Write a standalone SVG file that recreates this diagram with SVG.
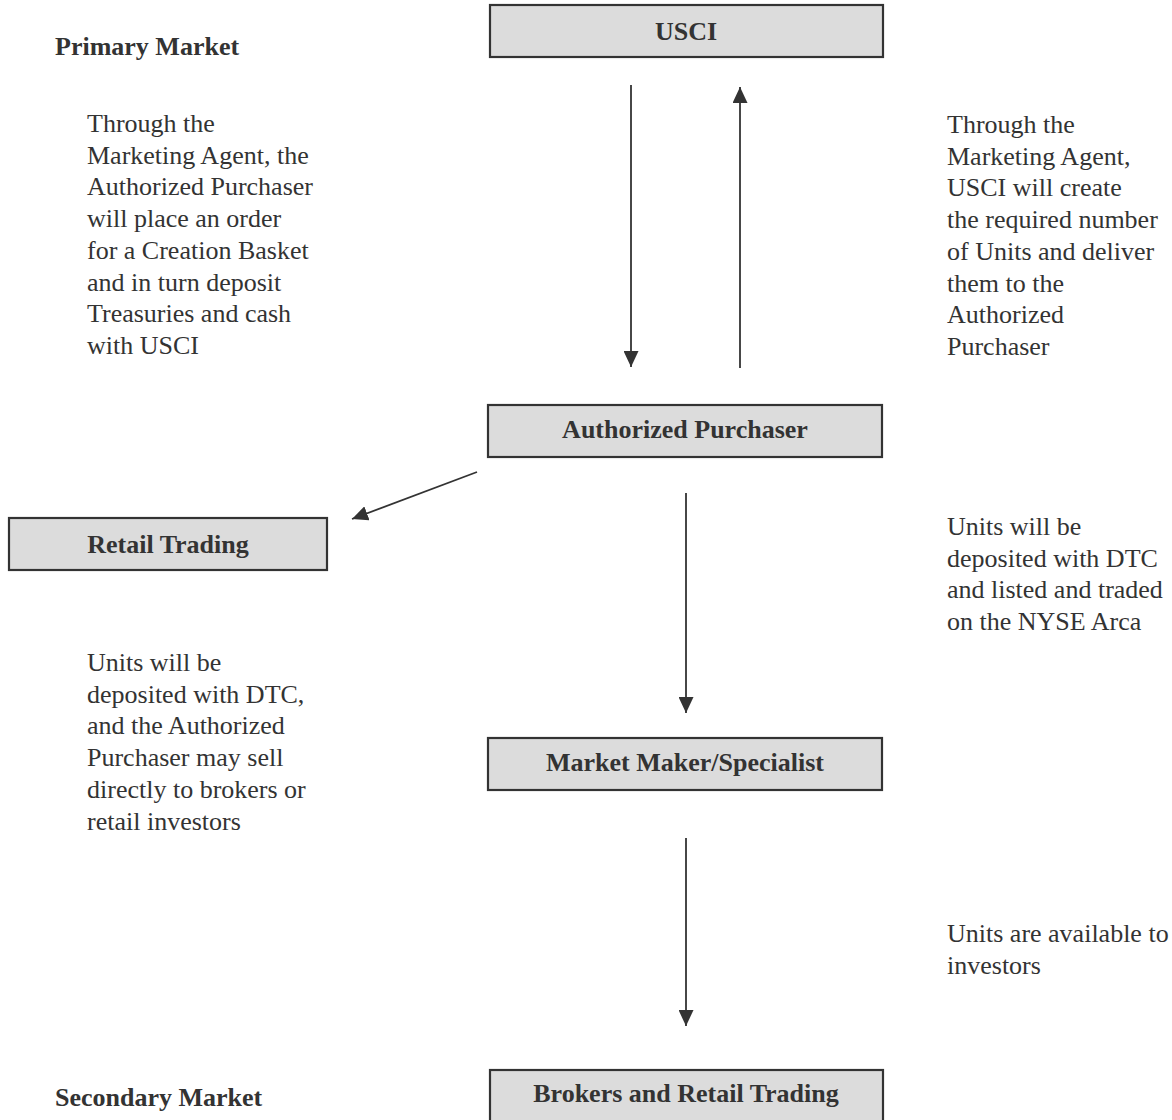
<svg xmlns="http://www.w3.org/2000/svg" width="1172" height="1120" viewBox="0 0 1172 1120">
<defs>
<marker id="ah" viewBox="0 0 16 15" refX="16" refY="7.5" markerWidth="16" markerHeight="15" markerUnits="userSpaceOnUse" orient="auto">
<path d="M0,0 L16,7.5 L0,15 Z" fill="#333"/>
</marker>
<style>
.box{fill:#dcdcdc;stroke:#333;stroke-width:2.2}
.lbl{font-family:"Liberation Serif","Times New Roman",serif;font-size:26px;font-weight:bold;fill:#333;text-anchor:middle}
.hdr{font-family:"Liberation Serif","Times New Roman",serif;font-size:26px;font-weight:bold;fill:#333}
.txt{font-family:"Liberation Serif","Times New Roman",serif;font-size:26px;fill:#333}
.conn{stroke:#333;stroke-width:1.8;fill:none;marker-end:url(#ah)}
</style>
</defs>
<rect width="1172" height="1120" fill="#fff"/>

<g id="connectors">
<line class="conn" x1="631" y1="85" x2="631" y2="367"/>
<line class="conn" x1="740" y1="368" x2="740" y2="87"/>
<line class="conn" x1="477" y1="472" x2="352" y2="519"/>
<line class="conn" x1="686" y1="493" x2="686" y2="713"/>
<line class="conn" x1="686" y1="838" x2="686" y2="1026"/>
</g>

<g id="usci">
<rect class="box" x="490" y="5" width="393" height="52"/>
<text class="lbl" x="686" y="40">USCI</text>
</g>
<g id="authorized-purchaser">
<rect class="box" x="488" y="405" width="394" height="52"/>
<text class="lbl" x="685" y="438">Authorized Purchaser</text>
</g>
<g id="retail-trading">
<rect class="box" x="9" y="518" width="318" height="52"/>
<text class="lbl" x="168" y="553">Retail Trading</text>
</g>
<g id="market-maker">
<rect class="box" x="488" y="738" width="394" height="52"/>
<text class="lbl" x="685" y="771">Market Maker/Specialist</text>
</g>
<g id="brokers">
<rect class="box" x="490" y="1070" width="393" height="52"/>
<text class="lbl" x="686" y="1102">Brokers and Retail Trading</text>
</g>

<g id="labels">
<text class="hdr" x="55" y="55">Primary Market</text>
<text class="hdr" x="55" y="1106">Secondary Market</text>

<text class="txt" x="87">
<tspan x="87" y="132">Through the</tspan>
<tspan x="87" y="163.7">Marketing Agent, the</tspan>
<tspan x="87" y="195.4">Authorized Purchaser</tspan>
<tspan x="87" y="227.1">will place an order</tspan>
<tspan x="87" y="258.8">for a Creation Basket</tspan>
<tspan x="87" y="290.5">and in turn deposit</tspan>
<tspan x="87" y="322.2">Treasuries and cash</tspan>
<tspan x="87" y="353.9">with USCI</tspan>
</text>

<text class="txt" x="947">
<tspan x="947" y="133">Through the</tspan>
<tspan x="947" y="164.7">Marketing Agent,</tspan>
<tspan x="947" y="196.4">USCI will create</tspan>
<tspan x="947" y="228.1">the required number</tspan>
<tspan x="947" y="259.8">of Units and deliver</tspan>
<tspan x="947" y="291.5">them to the</tspan>
<tspan x="947" y="323.2">Authorized</tspan>
<tspan x="947" y="354.9">Purchaser</tspan>
</text>

<text class="txt" x="947">
<tspan x="947" y="535">Units will be</tspan>
<tspan x="947" y="566.7">deposited with DTC</tspan>
<tspan x="947" y="598.4">and listed and traded</tspan>
<tspan x="947" y="630.1">on the NYSE Arca</tspan>
</text>

<text class="txt" x="87">
<tspan x="87" y="671">Units will be</tspan>
<tspan x="87" y="702.7">deposited with DTC,</tspan>
<tspan x="87" y="734.4">and the Authorized</tspan>
<tspan x="87" y="766.1">Purchaser may sell</tspan>
<tspan x="87" y="797.8">directly to brokers or</tspan>
<tspan x="87" y="829.5">retail investors</tspan>
</text>

<text class="txt" x="947">
<tspan x="947" y="942">Units are available to</tspan>
<tspan x="947" y="973.7">investors</tspan>
</text>
</g>
</svg>
